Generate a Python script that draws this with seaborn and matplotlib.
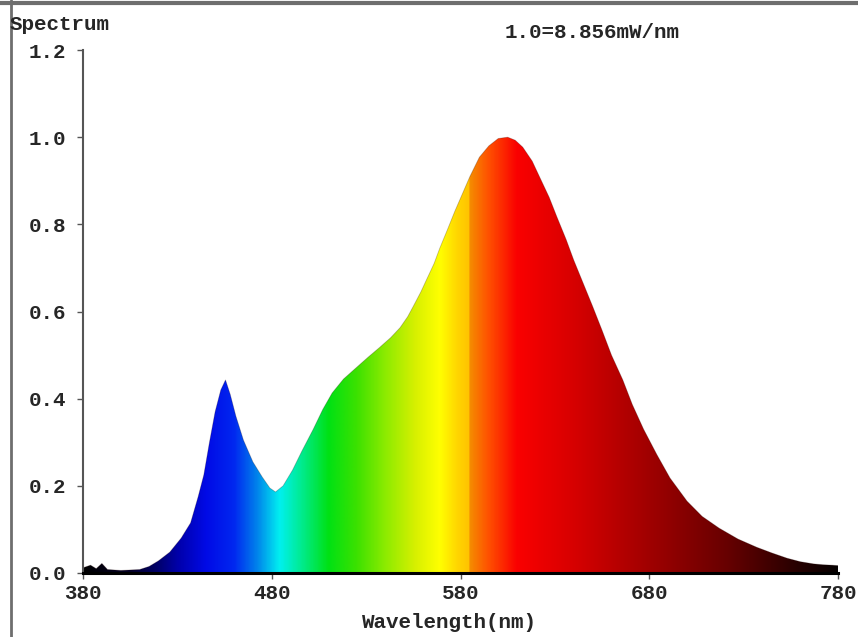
import numpy as np
import pandas as pd
import seaborn as sns
import matplotlib.pyplot as plt
from matplotlib.colors import LinearSegmentedColormap
from matplotlib.lines import Line2D

# spectrum
wavelength = [380, 384, 387, 390, 393, 400, 410, 415, 420, 426, 432, 437, 441, 444,
              447, 450, 453, 455.5, 458, 461, 465, 470, 475, 479, 482, 486, 491, 496,
              502, 507, 512, 518, 525, 531, 537, 543, 548, 552, 555, 559, 562, 566,
              569, 573, 577, 581, 585, 590, 595, 600, 605, 609, 613, 618, 622, 627,
              631, 636, 640, 645, 650, 655, 660, 666, 671, 677, 684, 691, 700, 708,
              717, 727, 737, 745, 753, 760, 767, 772, 777, 780]
intensity = [0.012, 0.018, 0.010, 0.022, 0.008, 0.006, 0.008, 0.015, 0.028, 0.048,
             0.080, 0.115, 0.175, 0.225, 0.300, 0.370, 0.420, 0.443, 0.410, 0.360,
             0.305, 0.255, 0.220, 0.195, 0.186, 0.200, 0.236, 0.280, 0.330, 0.375,
             0.413, 0.445, 0.472, 0.495, 0.517, 0.540, 0.563, 0.588, 0.612, 0.645,
             0.673, 0.710, 0.745, 0.787, 0.830, 0.870, 0.910, 0.954, 0.980, 0.997,
             1.000, 0.993, 0.977, 0.945, 0.908, 0.862, 0.818, 0.765, 0.718, 0.665,
             0.612, 0.557, 0.500, 0.443, 0.387, 0.330, 0.272, 0.218, 0.165, 0.130,
             0.103, 0.078, 0.059, 0.046, 0.034, 0.026, 0.021, 0.019, 0.018, 0.017]

x_ticks = [380, 480, 580, 680, 780]
y_ticks = [0.0, 0.2, 0.4, 0.6, 0.8, 1.0, 1.2]

# colour of each wavelength for the fill
color_nm = [380, 405, 418, 430, 445, 460, 472, 484, 496, 510, 525, 540, 556, 569,
            578, 584.5, 585, 595, 610, 640, 680, 720, 755, 780]
color_rgb = [(0, 0, 0), (5, 0, 40), (0, 0, 100), (0, 0, 170), (0, 10, 230),
             (0, 40, 240), (0, 130, 235), (0, 240, 240), (0, 235, 140),
             (0, 225, 20), (60, 225, 0), (140, 235, 0), (215, 240, 0),
             (255, 255, 0), (255, 215, 0), (255, 195, 0), (245, 140, 0),
             (255, 80, 0), (250, 0, 0), (215, 0, 0), (160, 0, 0), (105, 0, 0),
             (45, 0, 0), (5, 0, 0)]

df = pd.DataFrame({'Wavelength': wavelength, 'Spectrum': intensity})

sns.set_style('ticks')
plt.rcParams['font.family'] = ['Liberation Mono', 'DejaVu Sans Mono']
plt.rcParams['font.weight'] = 'bold'

fig = plt.figure(figsize=(8.58, 6.37), dpi=100)
ax = fig.add_axes([83 / 858, 64 / 637, 755 / 858, 523 / 637])

stops = [((n - 380) / 400, tuple(c / 255 for c in rgb)) for n, rgb in zip(color_nm, color_rgb)]
cmap = LinearSegmentedColormap.from_list('spectrum', stops, N=1024)

poly = ax.fill_between(df['Wavelength'], df['Spectrum'], 0, color='none', lw=0)
grad = np.linspace(380, 780, 1200).reshape(1, -1)
img = ax.imshow(grad, cmap=cmap, vmin=380, vmax=780, extent=[380, 780, 0, 1.2],
                aspect='auto', origin='lower', interpolation='bilinear', zorder=1)
img.set_clip_path(poly.get_paths()[0], transform=ax.transData)

sns.lineplot(data=df, x='Wavelength', y='Spectrum', ax=ax, color='#200000',
             lw=0.6, alpha=0.25, zorder=2)

ax.set_xlim(380, 780)
ax.set_ylim(0, 1.2)
ax.set_xticks(x_ticks)
ax.set_yticks(y_ticks)
ax.set_yticklabels([f'{v:.1f}' for v in y_ticks])
ax.tick_params(axis='both', labelsize=15, length=4, width=1, color='#555555')
ax.tick_params(axis='x', pad=4)
ax.tick_params(axis='y', pad=8)
for lab in ax.get_xticklabels() + ax.get_yticklabels():
    lab.set_fontweight('bold')

sns.despine(ax=ax)
ax.spines['left'].set_color('#555555')
ax.spines['left'].set_linewidth(1.5)
ax.spines['bottom'].set_color('black')
ax.spines['bottom'].set_linewidth(2.2)
ax.spines['bottom'].set_zorder(5)

ax.set_ylabel('')
ax.set_xlabel('Wavelength(nm)', fontsize=15, fontweight='bold')
ax.xaxis.set_label_coords((449 - 83) / 755, -0.077)

fig.text(10 / 858, 1 - 25 / 637, 'Spectrum', fontsize=15, fontweight='bold',
         ha='left', va='center')
fig.text(505 / 858, 1 - 33 / 637, '1.0=8.856mW/nm', fontsize=15, fontweight='bold',
         ha='left', va='center')

# outer frame of the screenshot
fig.add_artist(Line2D([11 / 858, 11 / 858], [0, 1], transform=fig.transFigure,
                      color='#6e6e6e', lw=2))
fig.add_artist(Line2D([0, 1], [1 - 3 / 637, 1 - 3 / 637], transform=fig.transFigure,
                      color='#6e6e6e', lw=3))

fig.savefig('out.png', dpi=100)
